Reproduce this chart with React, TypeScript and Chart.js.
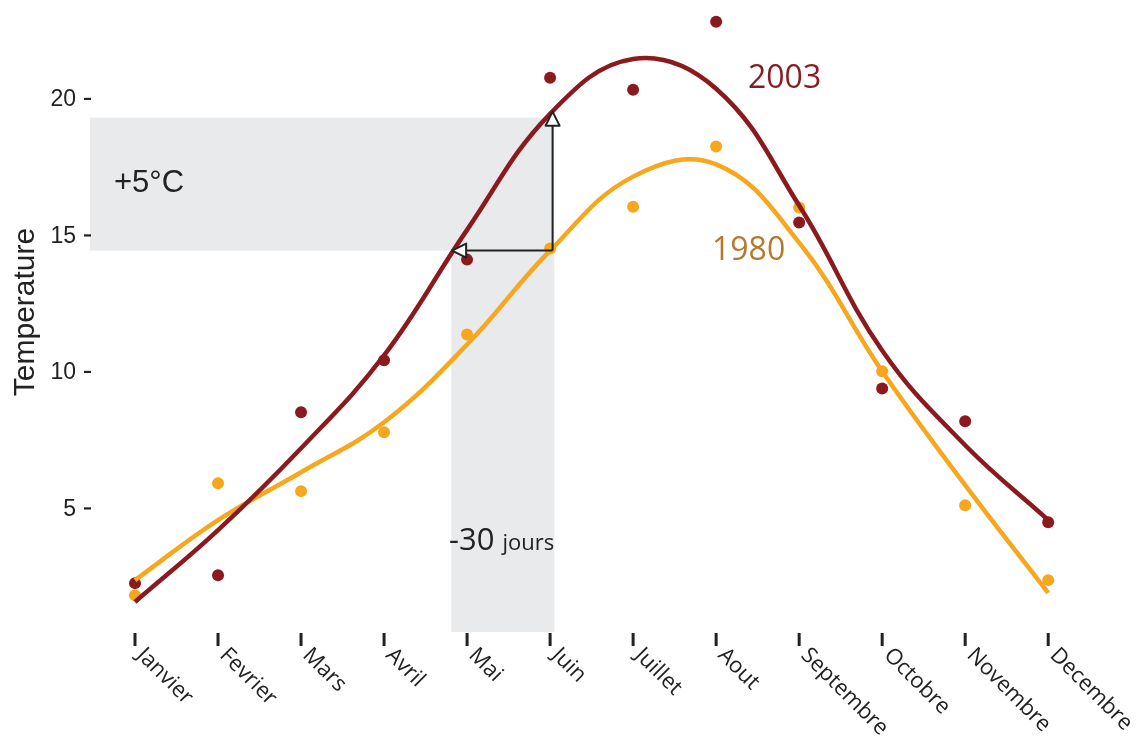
import React, { useEffect, useRef } from "react";
import { Chart, registerables } from "chart.js";

Chart.register(...registerables);

const months = ["Janvier", "Fevrier", "Mars", "Avril", "Mai", "Juin", "Juillet", "Aout", "Septembre", "Octobre", "Novembre", "Decembre"];
const obs2003 = [2.26, 2.55, 8.52, 10.42, 14.11, 20.77, 20.33, 22.82, 15.47, 9.39, 8.19, 4.49];
const obs1980 = [1.82, 5.92, 5.63, 7.79, 11.37, 14.52, 16.05, 18.25, 16.02, 10.02, 5.11, 2.37];
const fit2003 = [1.57, 4.2, 7.2, 10.6, 15.2, 19.45, 21.46, 20.37, 16.09, 10.78, 7.31, 4.57];
const fit1980 = [2.37, 4.57, 6.32, 8.15, 11.0, 14.44, 17.15, 17.6, 14.73, 10.02, 5.85, 1.9];
const yTicks = [5, 10, 15, 20];

// annotation geometry in data units
const bandTempLow = 14.44;
const bandTempHigh = 19.31;
const bandMonthLeft = 4.81;
const bandMonthRight = 6.05;
const arrowMonth = 6.03;
const arrowTipTemp = 19.53;
const arrowTipMonth = 4.82;

const RED = "#8B1A1E";
const ORANGE = "#F6A71E";
const GREY = "#E9EAEC";
const INK = "#222222";

function arrowHead(ctx: CanvasRenderingContext2D, tx: number, ty: number, dir: "up" | "left") {
  const len = 14, half = 7;
  ctx.beginPath();
  if (dir === "up") {
    ctx.moveTo(tx, ty);
    ctx.lineTo(tx - half, ty + len);
    ctx.lineTo(tx + half, ty + len);
  } else {
    ctx.moveTo(tx, ty);
    ctx.lineTo(tx + len, ty - half);
    ctx.lineTo(tx + len, ty + half);
  }
  ctx.closePath();
  ctx.fillStyle = "#ffffff";
  ctx.fill();
  ctx.lineWidth = 2;
  ctx.lineJoin = "round";
  ctx.strokeStyle = INK;
  ctx.stroke();
}

const decorPlugin = {
  id: "decor",
  beforeDatasetsDraw(chart: any) {
    const { ctx, chartArea, scales } = chart;
    const x = scales.x, y = scales.y;
    ctx.save();
    ctx.fillStyle = GREY;
    const yTop = y.getPixelForValue(bandTempHigh);
    const yLow = y.getPixelForValue(bandTempLow);
    const xR = x.getPixelForValue(bandMonthRight);
    const xL = x.getPixelForValue(bandMonthLeft);
    ctx.fillRect(chartArea.left, yTop, xR - chartArea.left, yLow - yTop);
    ctx.fillRect(xL, yLow, xR - xL, chartArea.bottom - yLow);

    // y ticks
    ctx.font = "23px 'Liberation Sans', Arial, sans-serif";
    ctx.fillStyle = INK;
    ctx.textAlign = "right";
    ctx.textBaseline = "middle";
    yTicks.forEach((t) => {
      const py = y.getPixelForValue(t);
      ctx.fillText(String(t), 76, py + 1);
      ctx.fillRect(84, py - 1, 7, 2.2);
    });
    // y title
    ctx.save();
    ctx.translate(26, 312);
    ctx.rotate(-Math.PI / 2);
    ctx.textAlign = "center";
    ctx.textBaseline = "middle";
    ctx.font = "30px 'Liberation Sans', Arial, sans-serif";
    ctx.fillText("Temperature", 0, 0);
    ctx.restore();

    // x ticks and labels
    ctx.font = "22px 'Open Sans', sans-serif";
    months.forEach((m, i) => {
      const px = x.getPixelForValue(i + 1);
      ctx.fillStyle = INK;
      ctx.fillRect(px - 1.5, chartArea.bottom + 1, 3, 13);
      ctx.save();
      ctx.translate(px + 13, chartArea.bottom + 12);
      ctx.rotate(Math.PI / 4);
      ctx.textAlign = "left";
      ctx.textBaseline = "top";
      ctx.fillText(m, 0, 0);
      ctx.restore();
    });
    ctx.restore();
  },
  afterDatasetsDraw(chart: any) {
    const { ctx, scales } = chart;
    const x = scales.x, y = scales.y;
    ctx.save();
    const ax = x.getPixelForValue(arrowMonth);
    const ay = y.getPixelForValue(bandTempLow);
    const tipY = y.getPixelForValue(arrowTipTemp);
    const tipX = x.getPixelForValue(arrowTipMonth);
    ctx.strokeStyle = INK;
    ctx.lineWidth = 2;
    ctx.beginPath();
    ctx.moveTo(ax, ay);
    ctx.lineTo(ax, tipY + 12);
    ctx.moveTo(ax, ay);
    ctx.lineTo(tipX + 12, ay);
    ctx.stroke();
    arrowHead(ctx, ax, tipY, "up");
    arrowHead(ctx, tipX, ay, "left");

    // text annotations
    ctx.fillStyle = INK;
    ctx.textAlign = "left";
    ctx.textBaseline = "alphabetic";
    ctx.font = "31px 'Liberation Sans', Arial, sans-serif";
    ctx.fillText("+5°C", 114, 192);
    ctx.font = "31px 'Open Sans', sans-serif";
    ctx.fillText("-30", 449, 550);
    const w = ctx.measureText("-30").width;
    ctx.font = "22px 'Open Sans', sans-serif";
    ctx.fillText("jours", 449 + w + 8, 550);

    ctx.font = "32px 'Open Sans', sans-serif";
    ctx.fillStyle = RED;
    ctx.fillText("2003", 748, 88);
    ctx.fillStyle = "#B5782C";
    ctx.fillText("1980", 712, 260);
    ctx.restore();
  },
};

export default function App() {
  const ref = useRef<HTMLCanvasElement>(null);
  useEffect(() => {
    document.body.style.margin = "0";
    const toXY = (arr: number[]) => arr.map((v, i) => ({ x: i + 1, y: v }));
    const chart = new Chart(ref.current!, {
      type: "line",
      data: {
        datasets: [
          { label: "2003 fit", data: toXY(fit2003), borderColor: RED, borderWidth: 4.5, pointRadius: 0, tension: 0.4, fill: false },
          { label: "1980 fit", data: toXY(fit1980), borderColor: ORANGE, borderWidth: 4.5, pointRadius: 0, tension: 0.4, fill: false },
          { label: "2003", data: toXY(obs2003), showLine: false, pointRadius: 6, pointBackgroundColor: RED, pointBorderWidth: 0, borderColor: RED },
          { label: "1980", data: toXY(obs1980), showLine: false, pointRadius: 6, pointBackgroundColor: ORANGE, pointBorderWidth: 0, borderColor: ORANGE },
        ],
      },
      options: {
        responsive: false,
        animation: false,
        layout: { padding: { left: 90, right: 34, top: 5, bottom: 110 } },
        plugins: { legend: { display: false }, tooltip: { enabled: false } },
        scales: {
          x: { type: "linear", min: 0.458, max: 12.66, display: false },
          y: { type: "linear", min: 0.47, max: 23.4, display: false },
        },
      },
      plugins: [decorPlugin],
    });
    return () => chart.destroy();
  }, []);
  return (
    <div style={{ width: 1137, height: 742 }}>
      <canvas ref={ref} width={1137} height={742} />
    </div>
  );
}
